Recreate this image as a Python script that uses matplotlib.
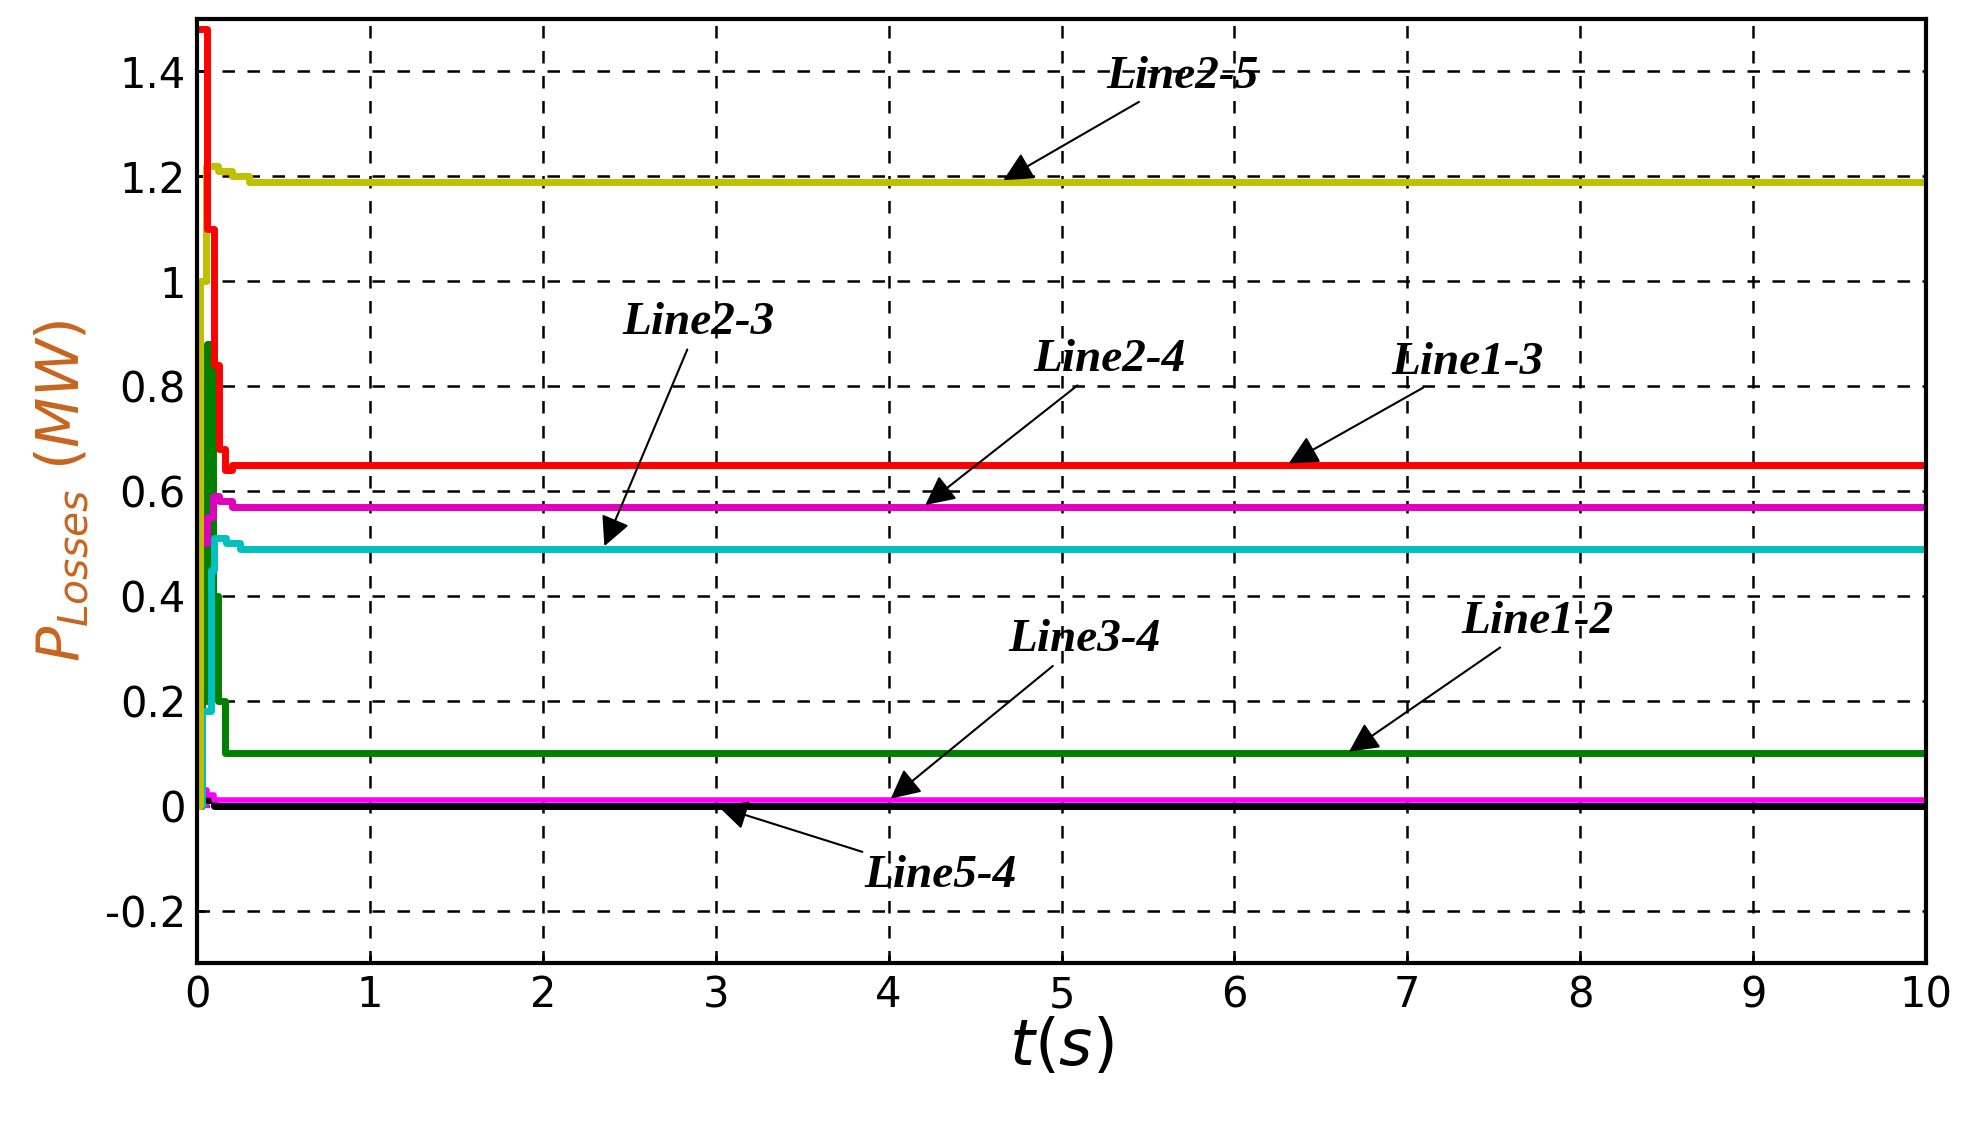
import numpy as np
import matplotlib
matplotlib.use("Agg")
import matplotlib.pyplot as plt

# step-wise transients then steady state (t in s, P in MW)
t_red = [0, 0.06, 0.10, 0.13, 0.16, 0.2, 10]
p_red = [1.48, 1.10, 0.84, 0.68, 0.64, 0.65, 0.65]
t_yel = [0, 0.02, 0.05, 0.12, 0.2, 0.3, 10]
p_yel = [0.0, 1.0, 1.22, 1.21, 1.20, 1.19, 1.19]
t_mag = [0, 0.02, 0.06, 0.09, 0.13, 0.2, 10]
p_mag = [0.0, 0.5, 0.55, 0.59, 0.58, 0.57, 0.57]
t_cyan = [0, 0.03, 0.08, 0.1, 0.17, 0.25, 10]
p_cyan = [0.0, 0.18, 0.45, 0.51, 0.50, 0.49, 0.49]
t_grn = [0, 0.03, 0.06, 0.09, 0.12, 0.16, 10]
p_grn = [0.0, 0.2, 0.88, 0.4, 0.2, 0.1, 0.1]
t_34 = [0, 0.03, 0.06, 0.1, 10]
p_34 = [0.06, 0.03, 0.02, 0.01, 0.01]
t_54 = [0, 0.03, 0.06, 0.1, 10]
p_54 = [0.04, 0.02, 0.01, 0.0, 0.0]

fig = plt.figure(figsize=(19.67, 11.24), dpi=100)
ax = fig.add_axes([197/1967, 1 - 963/1124, (1926-197)/1967, (963-19)/1124])

ax.plot([0, 10], [0, 0], color="#ff00ff", lw=3, ls=(0, (3, 6)))
ax.step(t_54, p_54, where="post", color="black", lw=5)
ax.step(t_34, p_34, where="post", color="#ff00ff", lw=4)
ax.step(t_grn, p_grn, where="post", color="#008000", lw=5)
ax.step(t_cyan, p_cyan, where="post", color="#00c0c0", lw=5)
ax.step(t_mag, p_mag, where="post", color="#e000c0", lw=5)
ax.step(t_yel, p_yel, where="post", color="#c0c000", lw=5)
ax.step(t_red, p_red, where="post", color="red", lw=5)

ax.set_xlim(0, 10)
ax.set_ylim(-0.3, 1.5)
ax.set_xticks(range(11))
ax.set_yticks([-0.2, 0, 0.2, 0.4, 0.6, 0.8, 1, 1.2, 1.4])
ax.set_yticklabels(["-0.2", "0", "0.2", "0.4", "0.6", "0.8", "1", "1.2", "1.4"])
ax.grid(True, color="black", ls=(0, (5, 5)), lw=1.8)
for s in ax.spines.values():
    s.set_linewidth(3)
ax.tick_params(labelsize=30, width=2, length=6, direction="in", pad=8)

ax.set_xlabel(r"$t(s)$", fontsize=46, labelpad=0)
ax.set_ylabel(r"$P_{Losses}$ $(MW)$", fontsize=42, color="#c8641e", labelpad=10)

font = dict(family="Liberation Serif", style="italic", weight="bold", fontsize=34)
arrow = dict(arrowstyle="-|>", color="black", lw=1.5, mutation_scale=45)
notes = [
    ("Line2-5", 4.65, 1.19, 5.7, 1.39),
    ("Line1-3", 6.3, 0.65, 7.35, 0.845),
    ("Line2-4", 4.2, 0.57, 5.28, 0.85),
    ("Line2-3", 2.35, 0.49, 2.9, 0.92),
    ("Line1-2", 6.65, 0.10, 7.75, 0.35),
    ("Line3-4", 4.0, 0.01, 5.13, 0.315),
    ("Line5-4", 3.0, 0.0, 4.3, -0.135),
]
for txt, x, y, tx, ty in notes:
    ax.annotate(txt, xy=(x, y), xytext=(tx, ty), ha="center", va="center",
                arrowprops=arrow, **font)

fig.savefig("out.png", dpi=100)
